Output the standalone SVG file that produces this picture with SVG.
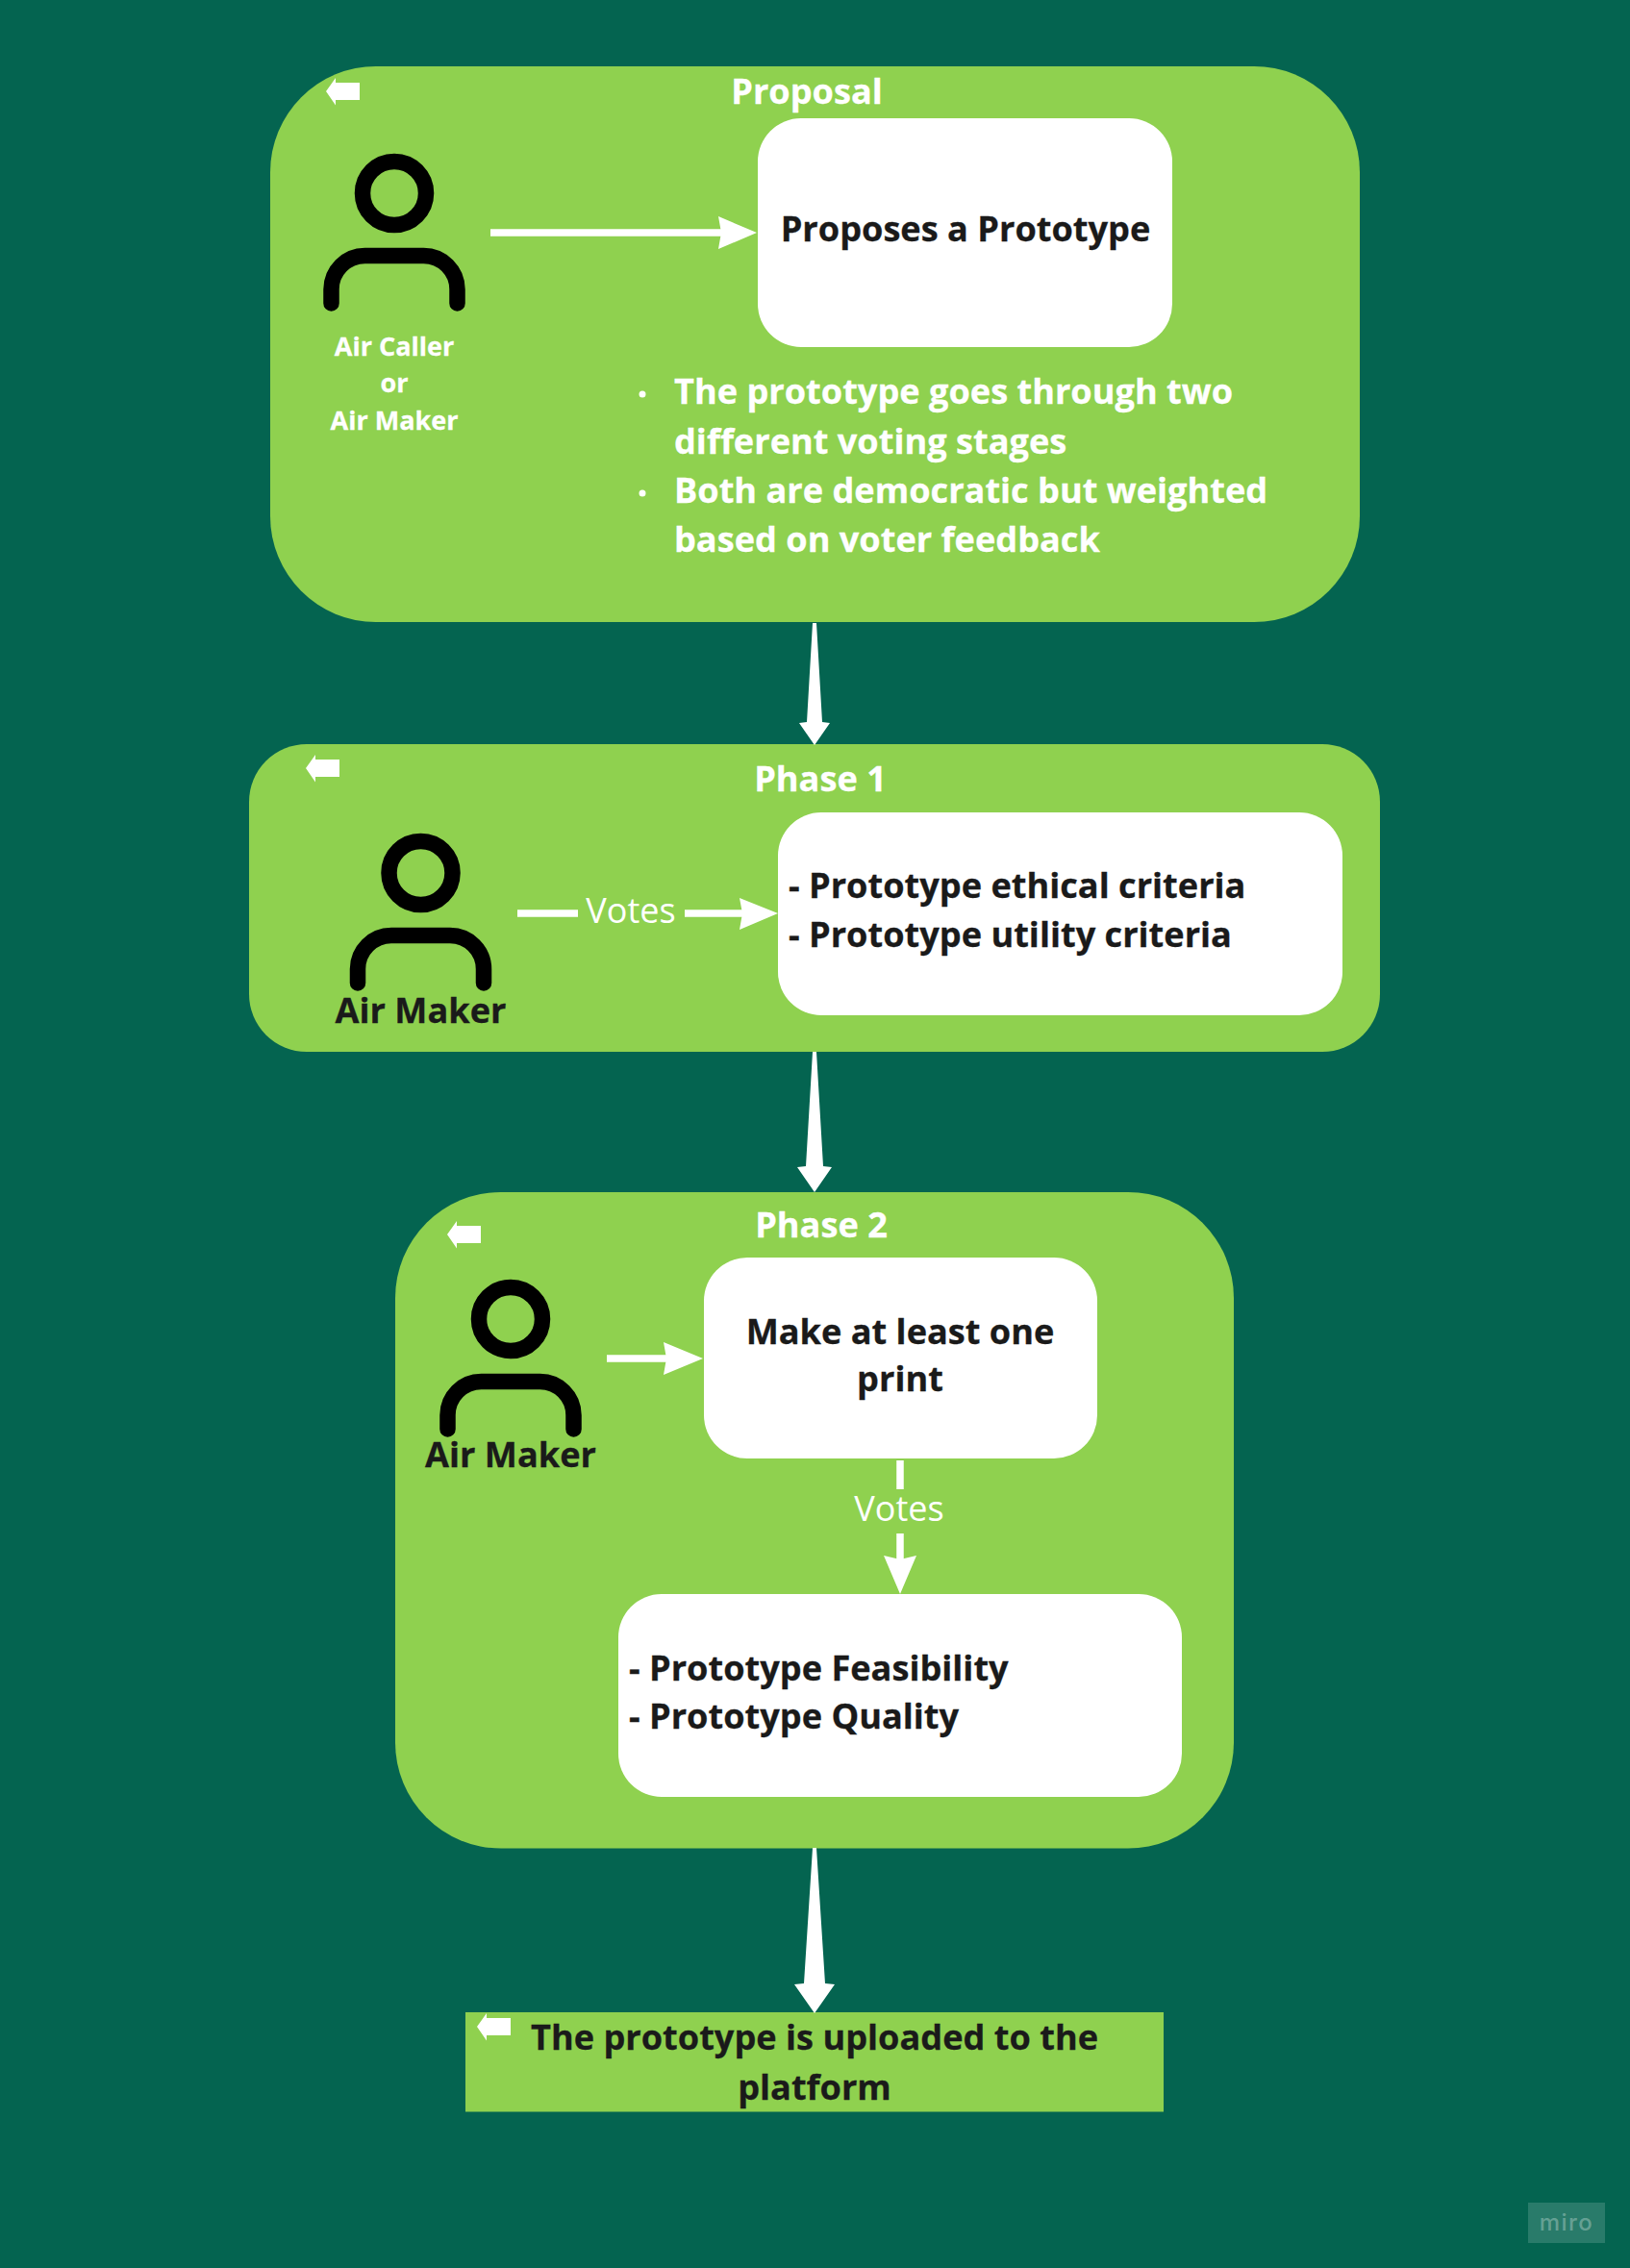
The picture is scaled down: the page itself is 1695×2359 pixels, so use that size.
<svg xmlns="http://www.w3.org/2000/svg" width="1695" height="2359" viewBox="0 0 1695 2359">
<defs>
<style>
text{font-family:"Open Sans","Noto Sans","Liberation Sans",sans-serif;font-weight:700}
.w{fill:#fff;stroke:#fff;stroke-width:.3px}.k{fill:#1a1a1a;stroke:#1a1a1a;stroke-width:.3px}.m{text-anchor:middle}
.t{font-size:36.150px}.s{font-size:27px}.v{font-size:36px;font-weight:400;fill:#fff}
.g{fill:#8fd14f}.b{fill:#fff}
.p{fill:none;stroke:#000;stroke-width:16.5px;stroke-linecap:round}
.c{fill:none;stroke:#fff;stroke-width:7.5px}
.a{fill:#fff}
</style>
<g id="icon"><path class="a" d="M0 14L10 0V5H35V23H10V28.500Z"/></g>
<g id="person"><circle class="p" cx="0" cy="0" r="33"/><path class="p" d="M-65.500 114.500V100A35 35 0 0 1 -30.500 65H30.500A35 35 0 0 1 65.500 100V114.500"/></g>
</defs>
<rect id="background" width="1695" height="2359" fill="#046450"/>
<g id="node-proposal">
<rect class="g" x="281" y="69" width="1133" height="578" rx="110"/>
<use href="#icon" x="339" y="81"/>
<text class="t w m" x="839" y="108">Proposal</text>
<use href="#person" x="410" y="201"/>
<text class="s w m" x="410" y="370">Air Caller</text>
<text class="s w m" x="410" y="408">or</text>
<text class="s w m" x="410" y="447">Air Maker</text>
<rect class="b" x="788" y="123" width="431" height="238" rx="45"/>
<text class="t k m" x="1004" y="251">Proposes a Prototype</text>
<circle class="a" cx="668" cy="410" r="3.500"/>
<text class="t w" x="701" y="420">The prototype goes through two</text>
<text class="t w" x="701" y="472">different voting stages</text>
<circle class="a" cx="668" cy="513" r="3.500"/>
<text class="t w" x="701" y="523">Both are democratic but weighted</text>
<text class="t w" x="701" y="574">based on voter feedback</text>
</g>
<g id="node-phase1">
<rect class="g" x="259" y="774" width="1176" height="320" rx="60"/>
<use href="#icon" x="318" y="785"/>
<text class="t w m" x="853" y="823">Phase 1</text>
<use href="#person" x="437.500" y="908"/>
<text class="t k m" x="437.500" y="1064">Air Maker</text>
<rect class="b" x="809" y="845" width="587" height="211" rx="45"/>
<text class="t k" x="820" y="934">- Prototype ethical criteria</text>
<text class="t k" x="820" y="985">- Prototype utility criteria</text>
</g>
<g id="node-phase2">
<rect class="g" x="411" y="1240" width="872" height="682.500" rx="110"/>
<use href="#icon" x="465" y="1270"/>
<text class="t w m" x="854" y="1287">Phase 2</text>
<use href="#person" x="531" y="1372"/>
<text class="t k m" x="531" y="1526">Air Maker</text>
<rect class="b" x="732" y="1308" width="409" height="209" rx="45"/>
<text class="t k m" x="936" y="1398">Make at least one</text>
<text class="t k m" x="936" y="1447">print</text>
<rect class="b" x="643" y="1658" width="586" height="211" rx="45"/>
<text class="t k" x="654" y="1748">- Prototype Feasibility</text>
<text class="t k" x="654" y="1798">- Prototype Quality</text>
</g>
<g id="node-platform">
<rect class="g" x="484" y="2093" width="726" height="103.500"/>
<use href="#icon" x="496" y="2094"/>
<text class="t k m" x="847" y="2132">The prototype is uploaded to the</text>
<text class="t k m" x="847" y="2184">platform</text>
</g>
<g id="node-miro">
<rect x="1589" y="2291" width="80" height="42" fill="#fff" fill-opacity=".15"/>
<text x="1629" y="2320" text-anchor="middle" style="font-family:Inter,sans-serif;font-size:24px;font-weight:500;letter-spacing:1.500px" fill="#fff" fill-opacity=".3">miro</text>
</g>
<g id="connectors">
<path class="c" d="M510 242H750"/><path class="a" d="M747 225L787 242L747 259L750 242Z"/>
<path class="c" d="M538 950H601M712 950H772"/><path class="a" d="M769 934L809 950L769 967L772 950Z"/>
<text class="v m" x="656" y="960">Votes</text>
<path class="c" d="M631 1413H694"/><path class="a" d="M690 1396L731 1413L690 1430L693 1413Z"/>
<path class="c" d="M936 1519V1549M936 1595V1632"/><path class="a" d="M919 1618L936 1658L953 1618L936 1622Z"/>
<text class="v m" x="935" y="1582">Votes</text>
<path class="a" d="M845 648H849L855 751L863 752L847 775L831 752L839 751Z"/>
<path class="a" d="M845 1094H849L856 1213L865 1214L847 1240L829 1214L838 1213Z"/>
<path class="a" d="M845 1922H849L858 2063L868 2064L847 2094L826 2064L836 2063Z"/>
</g>
</svg>
